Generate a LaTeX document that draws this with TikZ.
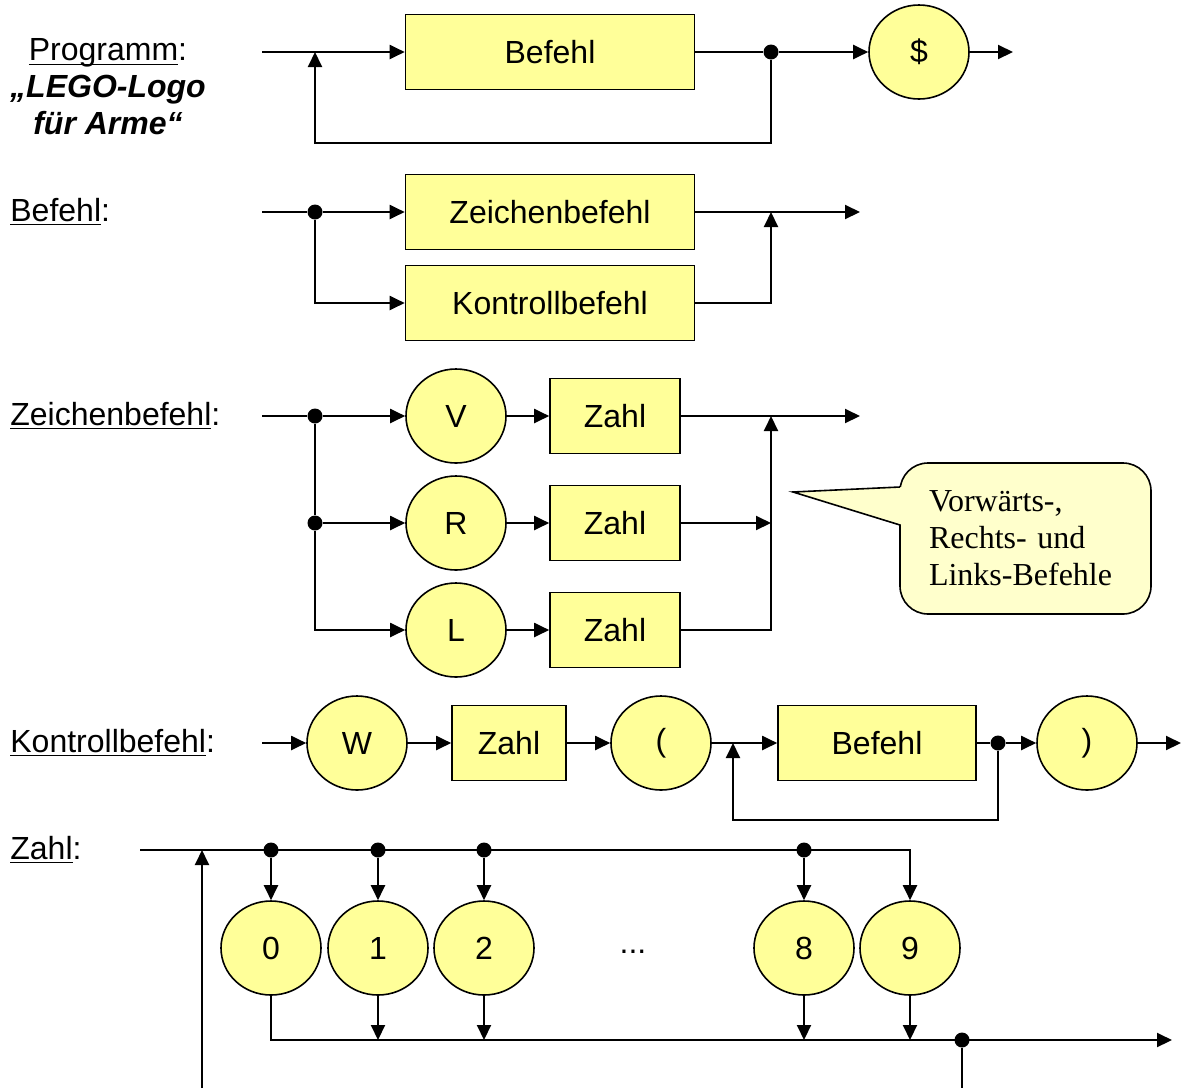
\documentclass[tikz,border=0pt]{standalone}
\usepackage{fontspec}
\setmainfont{Liberation Serif}
\setsansfont{Liberation Sans}
\usepackage{tikz}
\usetikzlibrary{arrows.meta,shapes.geometric,calc}
\definecolor{yellow1}{HTML}{FFFF99}
\definecolor{yellow2}{HTML}{FFFFCC}
\newsavebox{\ulbox}
\newcommand{\ulbl}[1]{\sbox\ulbox{#1}\rlap{\rule[-2.2pt]{\wd\ulbox}{0.8pt}}\usebox\ulbox}

\begin{document}
\begin{tikzpicture}[
    x=0.5pt, y=-0.5pt,
    >={Triangle[length=7.5pt,width=7pt]},
    box/.style={draw, line width=0.8pt, fill=yellow1,
                minimum width=144.5pt, minimum height=37.5pt,
                font=\sffamily\fontsize{16}{19}\selectfont, inner sep=0pt},
    term/.style={ellipse, draw, line width=0.8pt, fill=yellow1,
                 minimum width=50pt, minimum height=47pt,
                 font=\sffamily\fontsize{16}{19}\selectfont, inner sep=0pt},
    dot/.style={circle, fill, inner sep=0pt, minimum size=7.5pt},
    lbl/.style={anchor=base west, inner sep=0pt,
                font=\sffamily\fontsize{16}{19}\selectfont},
    arr/.style={->, line width=1pt},
    ln/.style={line width=1pt},
]
\useasboundingbox (0,0) rectangle (1183,1088);

% Programm
\node[font=\sffamily\fontsize{16}{18.5}\selectfont, align=center, inner sep=0pt]
    (plbl) at (108,87) {\ulbl{Programm}:\\ \textbf{\textit{„LEGO-Logo}}\\ \textbf{\textit{für Arme“}}};
\node[box] (pbef) at (550,52) {Befehl};
\node[term] (pend) at (919,52) {\$};
\node[dot] (pd) at (771,52) {};
\coordinate (ps) at (262,52);
\coordinate (pm) at (315,52);
\coordinate (pl) at (315,143);
\coordinate (pe) at (1013,52);

\draw[arr] (ps) -- (pbef);
\draw[ln] (pbef) -- (pd);
\draw[arr] (pd) -- (pend);
\draw[arr] (pend) -- (pe);
\draw[arr] (pd) |- (pl) -- (pm);

% Befehl
\node[lbl] (blbl) at (10,221) {\ulbl{Befehl}:};
\node[box] (bzb) at (550,212) {Zeichenbefehl};
\node[box] (bkb) at (550,303) {Kontrollbefehl};
\node[dot] (bd) at (315,212) {};
\coordinate (bs) at (262,212);
\coordinate (bm) at (771,212);
\coordinate (be) at (860,212);

\draw[ln] (bs) -- (bd);
\draw[arr] (bd) -- (bzb);
\draw[arr] (bd) |- (bkb);
\draw[arr] (bzb) -- (be);
\draw[arr] (bkb) -| (bm);

% Zeichenbefehl
\node[lbl] (zlbl) at (10,425) {\ulbl{Zeichenbefehl}:};
\node[term] (zv) at (456,416) {V};
\node[term] (zr) at (456,523) {R};
\node[term] (zl) at (456,630) {L};
\node[box, minimum width=65pt] (zzv) at (615,416) {Zahl};
\node[box, minimum width=65pt] (zzr) at (615,523) {Zahl};
\node[box, minimum width=65pt] (zzl) at (615,630) {Zahl};
\node[dot] (zd1) at (315,416) {};
\node[dot] (zd2) at (315,523) {};
\coordinate (zs) at (262,416);
\coordinate (zm) at (771,523);
\coordinate (zt) at (771,416);
\coordinate (ze) at (860,416);

\draw[ln] (zs) -- (zd1);
\draw[ln] (zd1) -- (zd2);
\draw[arr] (zd1) -- (zv);
\draw[arr] (zd2) -- (zr);
\draw[arr] (zd2) |- (zl);
\draw[arr] (zv) -- (zzv);
\draw[arr] (zr) -- (zzr);
\draw[arr] (zl) -- (zzl);
\draw[arr] (zzv) -- (ze);
\draw[arr] (zzr) -- (zm);
\draw[arr] (zzl) -| (zt);

% note
\node[draw, line width=0.8pt, fill=yellow2, rounded corners=14pt,
      minimum width=125.5pt, minimum height=75.5pt, inner sep=0pt,
      text width=96.5pt, align=left,
      font=\rmfamily\fontsize{16}{18.5}\selectfont]
    (note) at (1025.5,538.5) {Vorwärts-,\\\mbox{Rechts- und}\\Links-Befehle};
\coordinate (ntip) at (793,492);
\fill[yellow2] (903,487) -- (ntip) -- (903,525) -- cycle;
\draw[line width=0.8pt] (900,487) -- (ntip) -- (900,525);

% Kontrollbefehl
\node[lbl] (klbl) at (10,752) {\ulbl{Kontrollbefehl}:};
\node[term] (kw) at (357,743) {W};
\node[box, minimum width=57pt] (kz) at (509,743) {Zahl};
\node[term] (ko) at (661,743) {(};
\node[box, minimum width=99pt] (kb) at (877,743) {Befehl};
\node[term] (kc) at (1087,743) {)};
\node[dot] (kd) at (998,743) {};
\coordinate (ks) at (262,743);
\coordinate (km) at (733,743);
\coordinate (kl) at (733,820);
\coordinate (ke) at (1181,743);

\draw[arr] (ks) -- (kw);
\draw[arr] (kw) -- (kz);
\draw[arr] (kz) -- (ko);
\draw[arr] (ko) -- (kb);
\draw[ln] (kb) -- (kd);
\draw[arr] (kd) -- (kc);
\draw[arr] (kc) -- (ke);
\draw[arr] (kd) |- (kl) -- (km);

% Zahl
\node[lbl] (nlbl) at (10,859) {\ulbl{Zahl}:};
\foreach \d/\x in {0/271,1/378,2/484,8/804,9/910}
  \node[term] (n\d) at (\x,948) {\d};
\node[font=\sffamily\fontsize{16}{19}\selectfont] (ndots) at (633,952) {...};
\coordinate (ns) at (140,850);
\coordinate (ne) at (1172,1040);
\coordinate (nb) at (962,1088);
\coordinate (nu) at (202,1088);
\coordinate (nt) at (202,850);

\draw[arr] (ns) -| (n9);
\foreach \d in {0,1,2,8} {
  \node[dot] (nd\d) at (n\d |- ns) {};
  \draw[arr] (nd\d) -- (n\d);
}
\draw[arr] (n0) |- (ne);
\foreach \d in {1,2,8,9}
  \draw[arr] (n\d) -- (n\d |- ne);
\node[dot] (nr) at (962,1040) {};
\draw[ln] (nr) -- (nb);
\draw[arr] (nu) -- (nt);
\end{tikzpicture}
\end{document}
